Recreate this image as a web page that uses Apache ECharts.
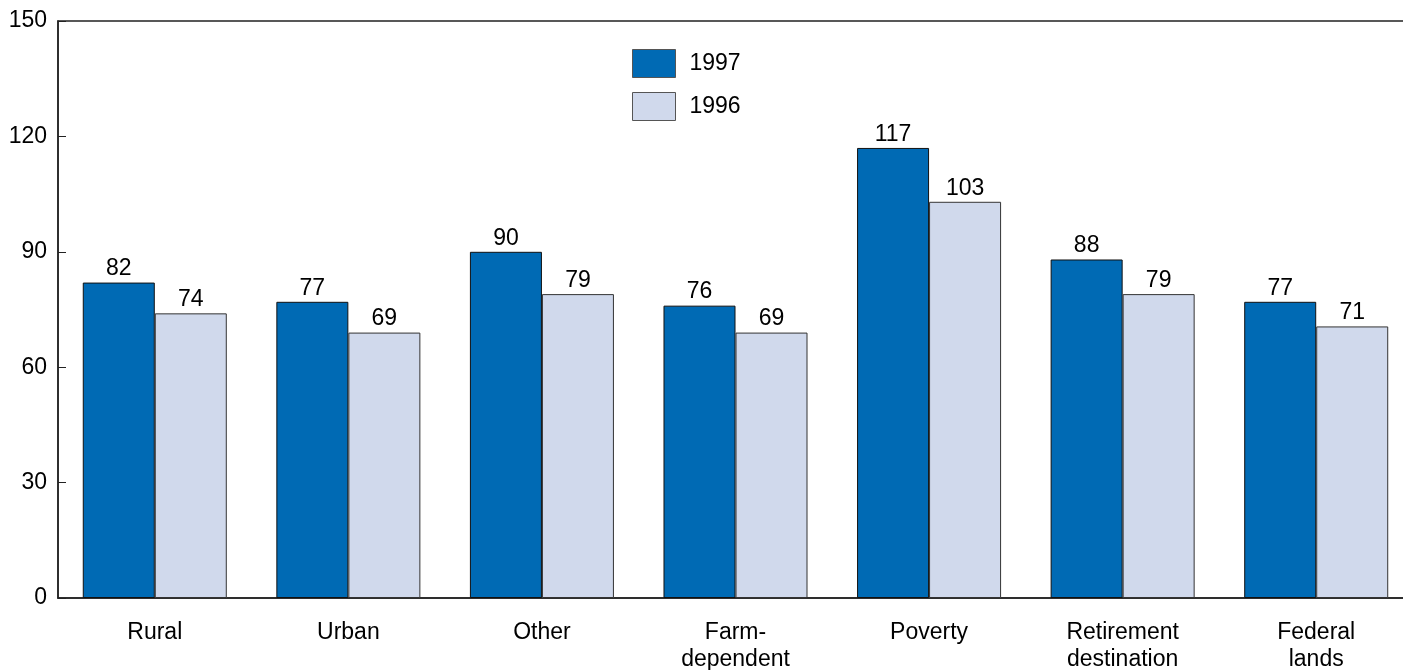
<!DOCTYPE html>
<html><head><meta charset="utf-8">
<script src="https://cdn.jsdelivr.net/npm/echarts@6/dist/echarts.min.js"></script>
<style>html,body{margin:0;padding:0;background:#fff}#c{width:1403px;height:670px}</style>
</head><body><div id="c"></div>
<script>
const categories = ["Rural","Urban","Other","Farm-\ndependent","Poverty","Retirement\ndestination","Federal\nlands"];
const values1997 = [82,77,90,76,117,88,77];
const values1996 = [74,69,79,69,103,79,70.6];
const yTicks = [0,30,60,90,120,150];

const font = "'Liberation Sans', Arial, Helvetica, sans-serif";
const chart = echarts.init(document.getElementById('c'), null, {renderer:'canvas'});
const lbl = {show:true, position:'top', distance:2, color:'#000', fontSize:23, fontFamily:font,
  formatter: p => Math.round(p.value)};
chart.setOption({
  animation:false,
  textStyle:{fontFamily:font},
  grid:{left:58, right:-10, top:21, bottom:72, containLabel:false, outerBoundsMode:'none',
    show:true, borderColor:'#222', borderWidth:1.5, backgroundColor:'transparent'},
  legend:{orient:'vertical', left:632, top:49, padding:0, itemWidth:43, itemHeight:28, itemGap:14,
    icon:'rect', itemStyle:{borderWidth:1, borderColor:'#555'},
    textStyle:{fontSize:23, color:'#000', fontFamily:font, padding:[0,0,0,9]},
    data:['1997','1996']},
  xAxis:{type:'category', data:categories,
    axisLine:{lineStyle:{color:'#222', width:1.5}}, axisTick:{show:false},
    axisLabel:{fontSize:23, color:'#000', margin:21, lineHeight:27, fontFamily:font}},
  yAxis:{type:'value', min:yTicks[0], max:yTicks[yTicks.length-1], interval:30,
    axisLine:{show:true, lineStyle:{color:'#222', width:1.5}},
    axisTick:{show:true, inside:true, length:8, lineStyle:{color:'#222'}},
    splitLine:{show:false},
    axisLabel:{fontSize:23, color:'#000', margin:11, fontFamily:font}},
  series:[
    {name:'1997', type:'bar', data:values1997, barGap:'0%', barCategoryGap:'25.6%',
      itemStyle:{color:'#006AB4', borderColor:'#111', borderWidth:1}, label:lbl},
    {name:'1996', type:'bar', data:values1996,
      itemStyle:{color:'#D0D9EC', borderColor:'#333', borderWidth:1}, label:lbl}
  ]
});
</script></body></html>
